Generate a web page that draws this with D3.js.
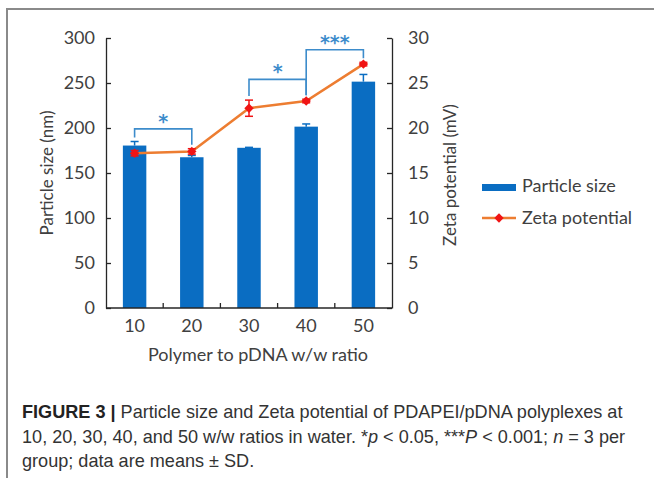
<!DOCTYPE html>
<html>
<head>
<meta charset="utf-8">
<script src="https://cdn.jsdelivr.net/npm/d3@7"></script>
<style>
  body { margin: 0; background: #fff; }
  svg { display: block; }
</style>
</head>
<body>
<svg id="chart" width="654" height="478"></svg>
<script>
// values
const ratios = ["10", "20", "30", "40", "50"];
const sizeMean = [180.5, 167.5, 178, 201.5, 251.5];
const sizeSD = [4.5, 2, 0.5, 3, 8];
const zetaMean = [17.2, 17.4, 22.2, 23.0, 27.1];
const zetaSD = [0.3, 0.3, 0.9, 0.2, 0.2];
const sizeTicks = [0, 50, 100, 150, 200, 250, 300];
const zetaTicks = [0, 5, 10, 15, 20, 25, 30];
// significance brackets: groups compared, bracket height (mV scale), label
const sigFrom = [0, 2, 3];
const sigTo = [1, 3, 4];
const sigLevel = [19.9, 25.4, 28.7];
const sigLabel = ["*", "*", "***"];

const barColor = "#0a6dc2";
const lineColor = "#ed7d31";
const markColor = "#f01414";
const sigColor = "#3d8ccb";
const axisFont = "Lato, 'Open Sans', sans-serif";
const fs = 18;

const svg = d3.select("#chart");

// frame round the figure
svg.append("path")
  .attr("d", "M7,478 V9 H654")
  .attr("fill", "none")
  .attr("stroke", "#8a8a8a")
  .attr("stroke-width", 2);

const pLeft = 106, pRight = 392, pTop = 38, pBottom = 308;

const x = d3.scaleBand().domain(ratios).range([pLeft, pRight])
  .paddingInner(0.59).paddingOuter(0.295);
const ySize = d3.scaleLinear().domain([0, 300]).range([pBottom, pTop]);
const yZeta = d3.scaleLinear().domain([0, 30]).range([pBottom, pTop]);
const cx = (i) => x(ratios[i]) + x.bandwidth() / 2;

const g = svg.append("g");

// bars
g.selectAll("rect.bar")
  .data(ratios)
  .join("rect")
  .attr("class", "bar")
  .attr("x", (d) => x(d))
  .attr("width", x.bandwidth())
  .attr("y", (d, i) => ySize(sizeMean[i]))
  .attr("height", (d, i) => ySize(0) - ySize(sizeMean[i]))
  .attr("fill", barColor);

// bar error bars (upper only shows above the bar)
const eb = g.selectAll("g.eb").data(ratios).join("g").attr("class", "eb")
  .attr("stroke", barColor).attr("stroke-width", 1.5);
eb.append("line")
  .attr("x1", (d, i) => cx(i)).attr("x2", (d, i) => cx(i))
  .attr("y1", (d, i) => ySize(sizeMean[i]))
  .attr("y2", (d, i) => ySize(sizeMean[i] + sizeSD[i]));
eb.append("line")
  .attr("x1", (d, i) => cx(i) - 4).attr("x2", (d, i) => cx(i) + 4)
  .attr("y1", (d, i) => ySize(sizeMean[i] + sizeSD[i]))
  .attr("y2", (d, i) => ySize(sizeMean[i] + sizeSD[i]));

// axes
const axisL = d3.axisLeft(ySize).tickValues(sizeTicks)
  .tickSizeInner(-5).tickSizeOuter(0).tickPadding(11);
const axisR = d3.axisRight(yZeta).tickValues(zetaTicks)
  .tickSizeInner(-5).tickSizeOuter(0).tickPadding(16);

const gl = svg.append("g").attr("transform", `translate(${pLeft},0)`).call(axisL);
const gr = svg.append("g").attr("transform", `translate(${pRight},0)`).call(axisR);
const gb = svg.append("g").attr("transform", `translate(0,${pBottom})`)
  .call(d3.axisBottom(x).tickSize(0).tickPadding(11));

[gl, gr, gb].forEach((a) => {
  a.selectAll("path, line").attr("stroke", "#262626").attr("stroke-width", 1.3);
  a.selectAll("text").attr("font-family", axisFont).attr("font-size", fs)
    .attr("fill", "#404040");
});
gb.select(".domain").attr("d", `M${pLeft},0H${pRight}`);
gr.selectAll("text").attr("text-anchor", "start");

// small inward ticks between categories
gb.selectAll("line.sep")
  .data(ratios.slice(0, -1))
  .join("line")
  .attr("class", "sep")
  .attr("x1", (d) => x(d) + x.bandwidth() / 2 + x.step() / 2)
  .attr("x2", (d) => x(d) + x.bandwidth() / 2 + x.step() / 2)
  .attr("y1", 0).attr("y2", -5)
  .attr("stroke", "#262626").attr("stroke-width", 1.3);

// axis titles
svg.append("text")
  .attr("transform", `translate(53,${(pTop + pBottom) / 2}) rotate(-90)`)
  .attr("text-anchor", "middle")
  .attr("font-family", axisFont).attr("font-size", 17).attr("fill", "#404040")
  .text("Particle size (nm)");
svg.append("text")
  .attr("transform", `translate(456,${(pTop + pBottom) / 2 + 2}) rotate(-90)`)
  .attr("text-anchor", "middle")
  .attr("font-family", axisFont).attr("font-size", 17).attr("fill", "#404040")
  .text("Zeta potential (mV)");
svg.append("text")
  .attr("x", (pLeft + pRight) / 2 + 9).attr("y", 361)
  .attr("text-anchor", "middle")
  .attr("font-family", axisFont).attr("font-size", fs).attr("fill", "#404040")
  .text("Polymer to pDNA w/w ratio");

// zeta line
const line = d3.line().x((d, i) => cx(i)).y((d) => yZeta(d));
g.append("path")
  .datum(zetaMean)
  .attr("d", line)
  .attr("fill", "none")
  .attr("stroke", lineColor)
  .attr("stroke-width", 2.5);

// zeta error bars
const ez = g.selectAll("g.ez").data(ratios).join("g").attr("class", "ez")
  .attr("stroke", markColor).attr("stroke-width", 1.5);
ez.append("line")
  .attr("x1", (d, i) => cx(i)).attr("x2", (d, i) => cx(i))
  .attr("y1", (d, i) => yZeta(zetaMean[i] - zetaSD[i]))
  .attr("y2", (d, i) => yZeta(zetaMean[i] + zetaSD[i]));
[-1, 1].forEach((s) => {
  ez.append("line")
    .attr("x1", (d, i) => cx(i) - 4).attr("x2", (d, i) => cx(i) + 4)
    .attr("y1", (d, i) => yZeta(zetaMean[i] + s * zetaSD[i]))
    .attr("y2", (d, i) => yZeta(zetaMean[i] + s * zetaSD[i]));
});

// diamond markers
const diamond = d3.symbol().type(d3.symbolSquare).size(44);
g.selectAll("path.mk")
  .data(zetaMean)
  .join("path")
  .attr("class", "mk")
  .attr("d", diamond)
  .attr("transform", (d, i) => `translate(${cx(i)},${yZeta(d)}) rotate(45)`)
  .attr("fill", markColor);

// significance brackets
const legBottom = (i) =>
  Math.min(ySize(sizeMean[i] + sizeSD[i]), yZeta(zetaMean[i] + zetaSD[i])) - 4;
sigFrom.forEach((a, k) => {
  const b = sigTo[k];
  const yl = yZeta(sigLevel[k]);
  svg.append("path")
    .attr("d", `M${cx(a)},${legBottom(a)}V${yl}H${cx(b)}V${legBottom(b)}`)
    .attr("fill", "none")
    .attr("stroke", sigColor)
    .attr("stroke-width", 1.6);
  svg.append("text")
    .attr("x", (cx(a) + cx(b)) / 2).attr("y", yl - 1)
    .attr("text-anchor", "middle")
    .attr("font-family", "'DejaVu Sans', sans-serif")
    .attr("font-size", 19).attr("font-weight", "bold")
    .attr("fill", sigColor)
    .text(sigLabel[k]);
});

// legend
const lg = svg.append("g").attr("font-family", axisFont).attr("font-size", fs)
  .attr("fill", "#404040");
lg.append("rect").attr("x", 482).attr("y", 184).attr("width", 34).attr("height", 7)
  .attr("fill", barColor);
lg.append("text").attr("x", 522).attr("y", 192).text("Particle size");
lg.append("line").attr("x1", 482).attr("x2", 516).attr("y1", 218).attr("y2", 218)
  .attr("stroke", lineColor).attr("stroke-width", 2.5);
lg.append("path").attr("d", diamond)
  .attr("transform", "translate(499,218) rotate(45)").attr("fill", markColor);
lg.append("text").attr("x", 522).attr("y", 224).text("Zeta potential");

// caption
const cap = svg.append("text")
  .attr("font-family", "'Liberation Sans', Arial, sans-serif")
  .attr("font-size", 18.1).attr("fill", "#333");
const l1 = cap.append("tspan").attr("x", 22).attr("y", 418);
l1.append("tspan").attr("font-weight", "bold").attr("fill", "#222").text("FIGURE 3 | ");
l1.append("tspan").text("Particle size and Zeta potential of PDAPEI/pDNA polyplexes at");
const l2 = cap.append("tspan").attr("x", 22).attr("y", 443);
l2.append("tspan").text("10, 20, 30, 40, and 50 w/w ratios in water. *");
l2.append("tspan").attr("font-style", "italic").text("p");
l2.append("tspan").text(" < 0.05, ***");
l2.append("tspan").attr("font-style", "italic").text("P");
l2.append("tspan").text(" < 0.001; ");
l2.append("tspan").attr("font-style", "italic").text("n");
l2.append("tspan").text(" = 3 per");
cap.append("tspan").attr("x", 22).attr("y", 467).text("group; data are means \u00b1 SD.");
</script>
</body>
</html>
